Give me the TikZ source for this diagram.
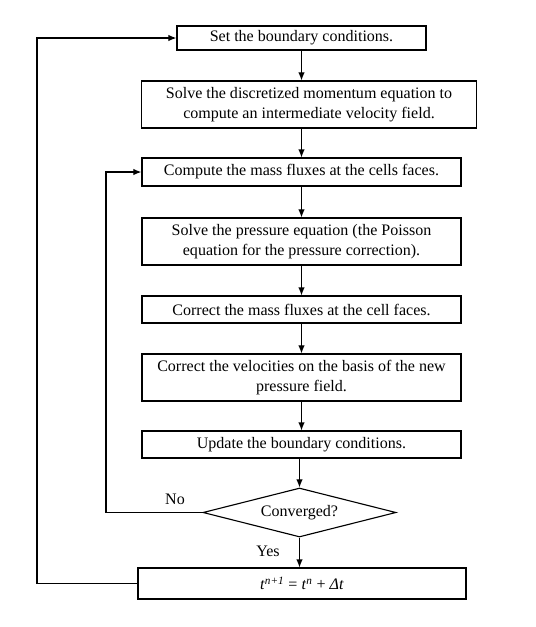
\documentclass[tikz,border=0pt]{standalone}
\usepackage{fontspec}
\setmainfont{Liberation Serif}
\usetikzlibrary{shapes.geometric,arrows.meta}

\begin{document}
\begin{tikzpicture}[x=0.025cm,y=-0.025cm,>={Latex[length=2mm,width=1.6mm]},
    stepbox/.style={draw,line width=0.8pt,rectangle,align=center,inner sep=1pt,
        minimum width=7.975cm,font=\fontsize{11.4}{14}\selectfont},
    testbox/.style={draw,line width=0.8pt,diamond,aspect=3.9,inner sep=0pt,
        minimum width=4.825cm,minimum height=1.225cm,font=\fontsize{11.4}{14}\selectfont},
    every path/.style={line width=0.8pt}]

\useasboundingbox (0,0) rectangle (536,627);

% Boxes
\node[stepbox,minimum width=6.225cm,minimum height=0.6cm] (bc) at (301.5,38) {Set the boundary conditions.};
\node[stepbox,minimum width=8.375cm,minimum height=1.175cm] (mom) at (309,104.5)
    {Solve the discretized momentum equation to\\compute an intermediate velocity field.};
\node[stepbox,minimum height=0.7cm] (flux) at (301.5,172) {Compute the mass fluxes at the cells faces.};
\node[stepbox,minimum height=1.175cm] (press) at (301.5,241.5)
    {Solve the pressure equation (the Poisson\\equation for the pressure correction).};
\node[stepbox,minimum height=0.675cm] (corflux) at (301.5,309.5) {Correct the mass fluxes at the cell faces.};
\node[stepbox,minimum height=1.175cm] (corvel) at (301.5,377.5)
    {Correct the velocities on the basis of the new\\pressure field.};
\node[stepbox,minimum height=0.675cm] (upd) at (301.5,444.5) {Update the boundary conditions.};
\node[testbox] (conv) at (299.5,512.5) {Converged?};
\node[stepbox,minimum width=8.2cm,minimum height=0.775cm] (time) at (302,583.5)
    {\textit{t}\textsuperscript{\textit{n+1}} = \textit{t}\textsuperscript{\textit{n}} + \textit{Δt}};

% Arrows down
\draw[->] (bc.south) -- (bc.south |- mom.north);
\draw[->] (flux.north |- mom.south) -- (flux.north);
\draw[->] (flux.south) -- (press.north);
\draw[->] (press.south) -- (corflux.north);
\draw[->] (corflux.south) -- (corvel.north);
\draw[->] (corvel.south) -- (upd.north);
\draw[->] (conv.north |- upd.south) -- (conv.north);
\draw[->] (conv.south) -- (conv.south |- time.north);

% Loops
\coordinate (inner) at (106,512.5);
\coordinate (outer) at (37,583.5);
\draw[->] (conv.west) -- (inner) |- (flux.west);
\draw[->] (time.west) -- (outer) |- (bc.west);

% Labels
\node[font=\fontsize{11.4}{14}\selectfont] (no) at (175,499) {No};
\node[font=\fontsize{11.4}{14}\selectfont] (yes) at (268,551) {Yes};

\end{tikzpicture}
\end{document}
